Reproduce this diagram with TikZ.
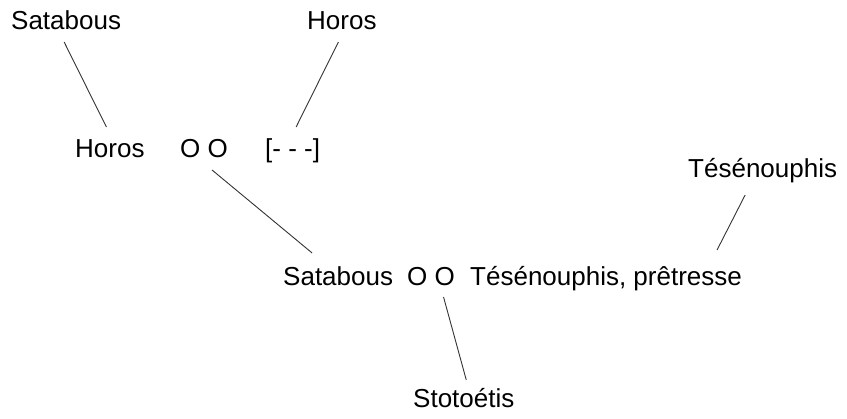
\documentclass[tikz,border=0pt]{standalone}
\usepackage{fontspec}
\setmainfont{Liberation Sans}
\usetikzlibrary{calc}
\begin{document}
\begin{tikzpicture}[x=1pt,y=-1pt,
  lbl/.style={inner sep=0pt,anchor=base west,font=\fontsize{26}{31}\selectfont},
  conn/.style={draw=black!80,line width=0.9pt}]
\useasboundingbox (0,0) rectangle (847,419);
\node[lbl] (sat1) at (11,30) {Satabous};
\node[lbl] (hor1) at (307,30) {Horos};
\node[lbl] (hor2) at (75,158) {Horos};
\node[lbl] (oo1) at (180,158) {O O};
\node[lbl] (dash) at (265,158) {[- - -]};
\node[lbl] (tes1) at (688,178) {Tésénouphis};
\node[lbl] (sat2) at (283,286) {Satabous};
\node[lbl] (oo2) at (407,286) {O O};
\node[lbl] (tes2) at (470,286) {Tésénouphis, prêtresse};
\node[lbl] (sto) at (413,408) {Stotoétis};
\draw[conn] ($(sat1.base)+(-2,12)$) -- ($(hor2.base)+(-3.5,-31)$);
\draw[conn] ($(hor1.base)+(-3.5,12)$) -- ($(dash.base)+(3.5,-31)$);
\draw[conn] ($(oo1.base)+(8,12)$) -- ($(sat2.base)+(-26,-33)$);
\draw[conn] ($(tes1.base)+(-17.5,17)$) -- ($(tes2.base)+(111,-36)$);
\draw[conn] ($(oo2.base)+(12.5,11)$) -- ($(sto.base)+(2.5,-28)$);
\end{tikzpicture}
\end{document}
